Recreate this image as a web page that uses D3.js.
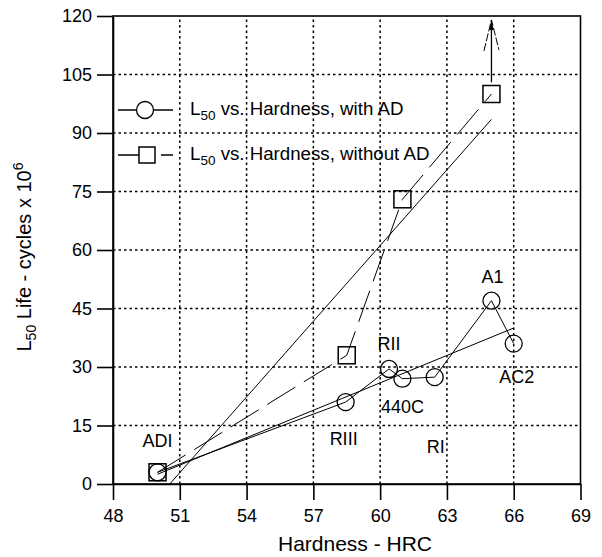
<!DOCTYPE html>
<html lang="en">
<head>
<meta charset="UTF-8">
<title>L50 Life vs Hardness</title>
<script src="https://cdn.jsdelivr.net/npm/d3@7"></script>
<style>
    body { margin: 0; background: #fff; }
    svg { display: block; font-family: "Liberation Sans", Arial, Helvetica, sans-serif; }
    text { fill: #000; }
</style>
</head>
<body>
<div id="chart"></div>
<script>
    // data
    const hardnessAD = [50, 58.45, 60.4, 61, 62.45, 65, 66];
    const lifeAD = [3, 21, 29.5, 27, 27.4, 47, 36];
    const namesAD = ["ADI", "RIII", "RII", "440C", "RI", "A1", "AC2"];

    const hardnessNoAD = [50, 58.5, 61, 65];
    const lifeNoAD = [3, 33, 73, 100];

    // linear fit end points
    const fitAD = [[50, 2.5], [66, 40]];
    const fitNoAD = [[50.55, 0], [65, 93.5]];

    // arrow above the last square (value is a lower bound)
    const arrowNoAD = [[65, 103], [65, 119]];

    const xTicks = [48, 51, 54, 57, 60, 63, 66, 69];
    const yTicks = [0, 15, 30, 45, 60, 75, 90, 105, 120];

    const legendLabels = ["vs. Hardness, with AD", "vs. Hardness, without AD"];

    // label placement around the points (px)
    const labelOffset = {
        "ADI": [0, -25], "RIII": [-2, 43], "RII": [0, -19], "440C": [0, 34],
        "RI": [1, 76], "A1": [1, -18], "AC2": [3, 39]
    };

    const width = 602, height = 557;
    const margin = { top: 16, right: 21.5, bottom: 73, left: 113 };

    const svg = d3.select("#chart").append("svg")
        .attr("width", width)
        .attr("height", height);

    const x = d3.scaleLinear().domain([48, 69]).range([margin.left, width - margin.right]);
    const y = d3.scaleLinear().domain([0, 120]).range([height - margin.bottom, margin.top]);

    svg.append("clipPath").attr("id", "plotClip")
        .append("rect")
        .attr("x", x(48)).attr("y", y(120))
        .attr("width", x(69) - x(48)).attr("height", y(0) - y(120));

    // dotted grid
    const grid = svg.append("g")
        .attr("stroke", "#000")
        .attr("stroke-width", 1.5)
        .attr("stroke-dasharray", "2.5,3");
    grid.selectAll(".gx")
        .data(xTicks.slice(1, -1))
        .enter().append("line")
        .attr("x1", d => x(d)).attr("x2", d => x(d))
        .attr("y1", y(0)).attr("y2", y(120));
    grid.selectAll(".gy")
        .data(yTicks.slice(1, -1))
        .enter().append("line")
        .attr("y1", d => y(d)).attr("y2", d => y(d))
        .attr("x1", x(48)).attr("x2", x(69));

    // axes
    const xAxis = svg.append("g")
        .attr("transform", "translate(0," + y(0) + ")")
        .call(d3.axisBottom(x).tickValues(xTicks).tickSize(16).tickSizeOuter(0).tickPadding(9));
    const yAxis = svg.append("g")
        .attr("transform", "translate(" + x(48) + ",0)")
        .call(d3.axisLeft(y).tickValues(yTicks).tickSize(16).tickSizeOuter(0).tickPadding(5));

    [xAxis, yAxis].forEach(a => {
        a.selectAll("path, line").attr("stroke", "#000").attr("stroke-width", 1.6);
        a.selectAll("text").attr("font-size", 18).attr("fill", "#000")
            .attr("font-family", "'Liberation Sans', Arial, Helvetica, sans-serif");
    });

    // frame
    svg.append("rect")
        .attr("x", x(48)).attr("y", y(120))
        .attr("width", x(69) - x(48)).attr("height", y(0) - y(120))
        .attr("fill", "none").attr("stroke", "#000").attr("stroke-width", 1.6);

    const plot = svg.append("g").attr("clip-path", "url(#plotClip)");

    const line = d3.line().x(d => x(d[0])).y(d => y(d[1]));
    const ptsAD = hardnessAD.map((h, i) => [h, lifeAD[i]]);
    const ptsNoAD = hardnessNoAD.map((h, i) => [h, lifeNoAD[i]]);

    // fit lines
    plot.append("path").datum(fitAD)
        .attr("d", line).attr("fill", "none").attr("stroke", "#000").attr("stroke-width", 1);
    plot.append("path").datum(fitNoAD)
        .attr("d", line).attr("fill", "none").attr("stroke", "#000").attr("stroke-width", 1);

    // connecting lines
    plot.append("path").datum(ptsAD)
        .attr("d", line).attr("fill", "none").attr("stroke", "#000").attr("stroke-width", 1);
    plot.append("path").datum(ptsNoAD)
        .attr("d", line).attr("fill", "none").attr("stroke", "#000").attr("stroke-width", 1)
        .attr("stroke-dasharray", "33,10");

    // markers
    plot.selectAll(".circ")
        .data(ptsAD)
        .enter().append("circle")
        .attr("cx", d => x(d[0])).attr("cy", d => y(d[1]))
        .attr("r", 8.5)
        .attr("fill", "none").attr("stroke", "#000").attr("stroke-width", 1.3);
    plot.selectAll(".sq")
        .data(ptsNoAD)
        .enter().append("rect")
        .attr("x", d => x(d[0]) - 8.5).attr("y", d => y(d[1]) - 8.5)
        .attr("width", 17).attr("height", 17)
        .attr("fill", "none").attr("stroke", "#000").attr("stroke-width", 1.5);

    // arrow
    const ax = x(arrowNoAD[0][0]), ay0 = y(arrowNoAD[0][1]), ay1 = y(arrowNoAD[1][1]);
    svg.append("line")
        .attr("x1", ax).attr("x2", ax).attr("y1", ay0).attr("y2", ay1)
        .attr("stroke", "#000").attr("stroke-width", 1.3);
    svg.append("path")
        .attr("d", "M" + (ax - 7.5) + "," + (ay1 + 31) + "L" + ax + "," + ay1 + "L" + (ax + 7.5) + "," + (ay1 + 30))
        .attr("fill", "none").attr("stroke", "#000").attr("stroke-width", 1)
        .attr("stroke-dasharray", "8,2");
    svg.append("path")
        .attr("d", "M" + (ax - 2) + "," + (ay1 + 10) + "L" + ax + "," + ay1 + "L" + (ax + 2) + "," + (ay1 + 10) + "Z")
        .attr("fill", "#000");

    // point labels
    svg.selectAll(".lbl")
        .data(namesAD)
        .enter().append("text")
        .attr("x", (d, i) => x(hardnessAD[i]) + labelOffset[d][0])
        .attr("y", (d, i) => y(lifeAD[i]) + labelOffset[d][1])
        .attr("text-anchor", "middle")
        .attr("font-size", 18)
        .text(d => d);

    // legend
    const legend = svg.append("g");
    legendLabels.forEach((lab, i) => {
        const ly = 110 + i * 45;
        legend.append("line")
            .attr("x1", 118).attr("x2", 173).attr("y1", ly).attr("y2", ly)
            .attr("stroke", "#000").attr("stroke-width", 1.3)
            .attr("stroke-dasharray", i === 1 ? "33,10" : null);
        if (i === 0) {
            legend.append("circle").attr("cx", 145).attr("cy", ly).attr("r", 8.5)
                .attr("fill", "#fff").attr("stroke", "#000").attr("stroke-width", 1.3);
        } else {
            legend.append("rect").attr("x", 139).attr("y", ly - 8).attr("width", 16).attr("height", 16)
                .attr("fill", "#fff").attr("stroke", "#000").attr("stroke-width", 1.5);
        }
        const t = legend.append("text").attr("x", 190).attr("y", ly + 5).attr("font-size", 18.7);
        t.append("tspan").text("L");
        t.append("tspan").attr("font-size", 13.5).attr("dy", 5).text("50");
        t.append("tspan").attr("dy", -5).text(" " + lab);
    });

    // axis titles
    svg.append("text")
        .attr("x", 355).attr("y", 551)
        .attr("text-anchor", "middle")
        .attr("font-size", 21)
        .text("Hardness - HRC");

    const yt = svg.append("text")
        .attr("transform", "translate(31,257) rotate(-90)")
        .attr("text-anchor", "middle")
        .attr("font-size", 20);
    yt.append("tspan").text("L");
    yt.append("tspan").attr("font-size", 14).attr("dy", 5).text("50");
    yt.append("tspan").attr("dy", -5).text(" Life - cycles x 10");
    yt.append("tspan").attr("font-size", 14).attr("dy", -8).text("6");
</script>
</body>
</html>
